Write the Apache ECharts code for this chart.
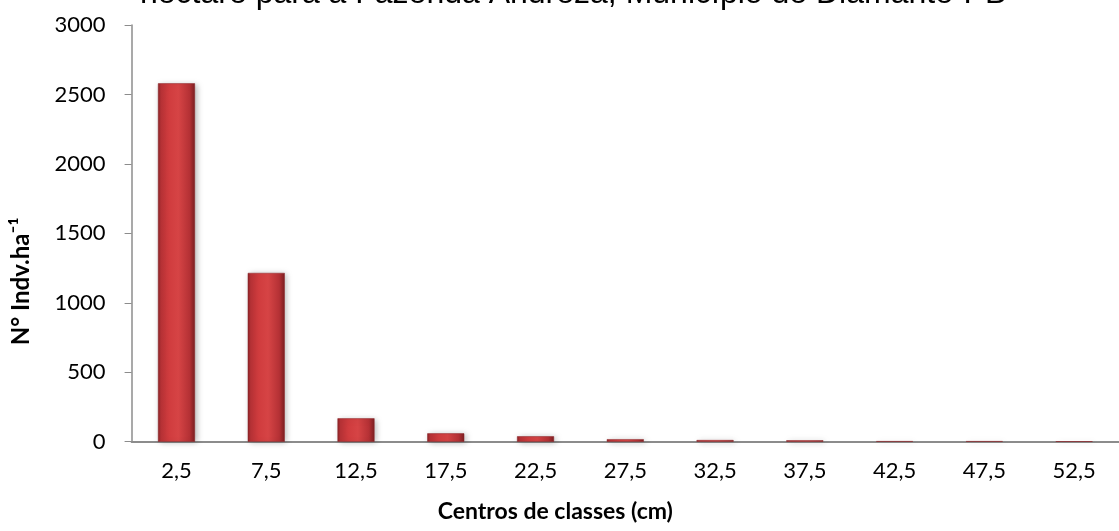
<!DOCTYPE html>
<html>
<head>
<meta charset="utf-8">
<script src="https://cdn.jsdelivr.net/npm/echarts@6/dist/echarts.min.js"></script>
<style>
html,body{margin:0;padding:0;background:#fff;}
#c{width:1119px;height:531px;}
</style>
</head>
<body>
<div id="c"></div>
<script>
const titleText = "hectare para a Fazenda Andreza, Município de Diamante-PB";
const categories = ["2,5","7,5","12,5","17,5","22,5","27,5","32,5","37,5","42,5","47,5","52,5"];
const individuos = [2580, 1215, 168, 60, 39, 18, 12, 10, 4, 4, 3];
const yAxisName = "N° Indv.ha⁻¹";
const xAxisName = "Centros de classes (cm)";

const chart = echarts.init(document.getElementById('c'), null, {renderer:'canvas'});
const barColor = new echarts.graphic.LinearGradient(0,0,1,0,[
  {offset:0, color:'#8a2326'},
  {offset:0.08, color:'#b83236'},
  {offset:0.3, color:'#d03c3e'},
  {offset:0.55, color:'#d64445'},
  {offset:0.85, color:'#b53135'},
  {offset:1, color:'#7c1f22'}
]);
chart.setOption({
  animation:false,
  title:{
    text:titleText, left:140, top:-22, padding:0,
    textStyle:{fontFamily:'Liberation Sans', fontSize:32, fontWeight:'normal', color:'#000'}
  },
  grid:{left:131.6, right:-11, top:25, bottom:89.3, containLabel:false},
  xAxis:{
    type:'category', data:categories,
    axisLine:{lineStyle:{color:'#8c8c8c', width:2}},
    axisTick:{show:false},
    axisLabel:{color:'#000', fontFamily:'Lato', fontSize:22, margin:18},
    name:xAxisName, nameLocation:'middle', nameGap:58,
    nameTextStyle:{fontFamily:'Lato', fontWeight:'bold', fontSize:23, color:'#000', padding:[0,140,0,0]}
  },
  yAxis:{
    type:'value', min:0, max:3000, interval:500,
    splitLine:{show:false},
    axisLine:{show:true, lineStyle:{color:'#8c8c8c', width:1.5}},
    axisTick:{show:true, length:7, lineStyle:{color:'#8c8c8c'}},
    axisLabel:{color:'#000', fontFamily:'Lato', fontSize:22, margin:26, formatter:function(v){return String(v);}},
    name:yAxisName, nameLocation:'middle', nameGap:98, nameRotate:90,
    nameTextStyle:{fontFamily:'Lato', fontWeight:'bold', fontSize:24, color:'#000', padding:[0,96,0,0]}
  },
  series:[{
    type:'bar', data:individuos, barWidth:37,
    itemStyle:{color:barColor, borderColor:'#8a2326', borderWidth:0.5,
      shadowColor:'rgba(0,0,0,0.28)', shadowBlur:6, shadowOffsetX:2, shadowOffsetY:1}
  }]
});
</script>
</body>
</html>
